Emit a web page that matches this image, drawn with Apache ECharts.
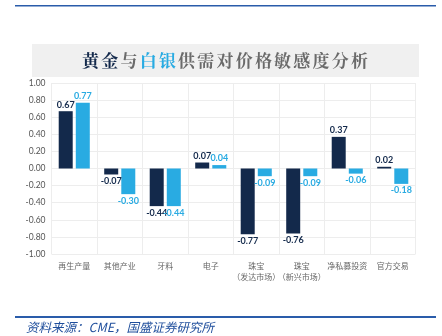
<!DOCTYPE html>
<html><head><meta charset="utf-8">
<script src="https://cdn.jsdelivr.net/npm/echarts@6/dist/echarts.min.js"></script>
<style>html,body{margin:0;padding:0;background:#fff}#c{width:442px;height:336px}</style>
</head><body><div id="c"></div>
<script>
const categories = ['再生产量','其他产业','牙料','电子','珠宝\n（发达市场）','珠宝\n（新兴市场）','净私募投资','官方交易'];
const goldValues = [0.67,-0.07,-0.44,0.07,-0.77,-0.76,0.37,0.02];
const silverValues = [0.77,-0.30,-0.44,0.04,-0.09,-0.09,-0.06,-0.18];
const yTicks = {min:-1, max:1, interval:0.2};
const titleParts = [['黄金','a'],['与','b'],['白银','c'],['供需对价格敏感度分析','b']];

const GOLD = '#13294b', SILVER = '#29abe2';
function lbl(color){
  return {show:true, fontSize:9, fontWeight:'bold', color:color, fontFamily:'Lato, "Noto Sans CJK SC"',
    distance:2, formatter:p=>p.value.toFixed(2)};
}
function mk(vals,color){
  return vals.map(v=>({value:v, label:Object.assign(lbl(color),{position: v>=0?'top':'bottom'})}));
}
let titleText = '';
titleParts.forEach(([s,k])=>{ for(const ch of s) titleText += '{'+k+'|'+ch+'}'; });
const tBase = {fontSize:17, fontWeight:'bold', fontFamily:'"Noto Serif CJK SC","Noto Sans CJK SC"', padding:[0,1.1]};
const chart = echarts.init(document.getElementById('c'));
chart.setOption({
  animation:false,
  grid:{left:51.5, right:26.5, top:83, bottom:82},
  xAxis:{type:'category', data:categories,
    axisLine:{show:false}, axisTick:{show:false},
    splitLine:{show:true, lineStyle:{color:'#ededed'}},
    axisLabel:{interval:0, fontSize:8, color:'#666', lineHeight:11, margin:6, fontFamily:'"Noto Sans CJK SC"'}},
  yAxis:{type:'value', min:yTicks.min, max:yTicks.max, interval:yTicks.interval,
    axisLabel:{formatter:v=>v.toFixed(2), fontSize:8.5, color:'#555', margin:6, fontFamily:'Lato, sans-serif'},
    axisLine:{show:false}, axisTick:{show:false},
    splitLine:{lineStyle:{color:'#ededed'}}},
  series:[
    {type:'bar', data:mk(goldValues,GOLD), barWidth:14, barGap:'22%', itemStyle:{color:GOLD}},
    {type:'bar', data:mk(silverValues,SILVER), barWidth:14, itemStyle:{color:SILVER}}
  ],
  graphic:[
    {type:'rect', shape:{x:15,y:5,width:421,height:1.5}, style:{fill:'#2a5caa'}},
    {type:'rect', shape:{x:32,y:44,width:387,height:33}, style:{fill:'#f0f0f0'}},
    {type:'text', x:225, y:61, style:{
      text:titleText, align:'center', verticalAlign:'middle',
      rich:{
        a:Object.assign({fill:'#13294b'},tBase),
        b:Object.assign({fill:'#6a6a6a'},tBase),
        c:Object.assign({fill:'#29abe2'},tBase)
      }}},
    {type:'rect', shape:{x:15,y:316,width:421,height:2}, style:{fill:'#2a5caa'}},
    {type:'text', x:26, y:327, style:{text:'资料来源：CME，国盛证券研究所', fill:'#1f4e9c',
      fontSize:12.5, fontStyle:'italic', fontFamily:'"Noto Sans CJK SC"', verticalAlign:'middle'}}
  ]
});
</script></body></html>
